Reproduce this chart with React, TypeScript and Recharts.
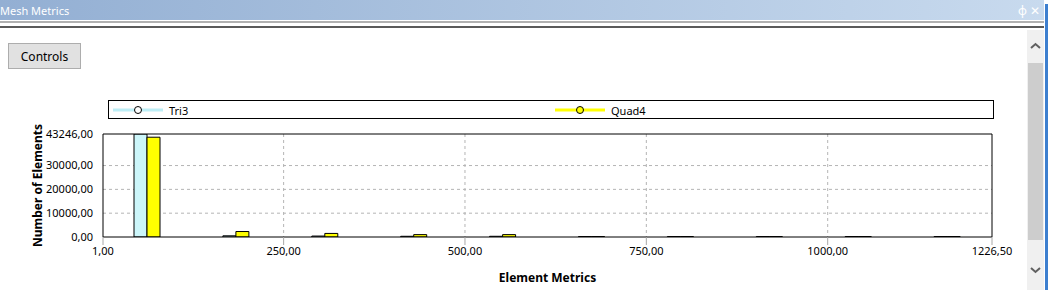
import React from 'react';
import { BarChart, Bar, XAxis, YAxis, CartesianGrid, Label, ReferenceLine } from 'recharts';

// bin centres of the element metric histogram
const binCenters = [62.28, 184.83, 307.38, 429.93, 552.48, 675.03, 797.58, 920.13, 1042.68, 1165.23];
const tri3Counts = [43246, 500, 400, 300, 300, 200, 200, 200, 200, 200];
const quad4Counts = [41900, 2300, 1500, 1000, 1000, 200, 200, 200, 200, 200];
const xTicks = [1, 250, 500, 750, 1000, 1226.5];
const yTicks = [0, 10000, 20000, 30000, 43246];
const seriesNames = ['Tri3', 'Quad4'];

const data = binCenters.map((x, i) => ({ x, tri3: tri3Counts[i], quad4: quad4Counts[i] }));

const fmt = (v: number) => v.toFixed(2).replace('.', ',');
const font = '"Noto Sans", "Open Sans", sans-serif';

function LegendItem({ name, line, dot, left }: { name: string; line: string; dot: string; left: number }) {
    return (
        <div style={{ position: 'absolute', left, top: 1, display: 'flex', alignItems: 'center', height: 16 }}>
            <svg width={50} height={10}>
                <line x1={0} y1={5} x2={50} y2={5} stroke={line} strokeWidth={3} />
                <circle cx={25} cy={5} r={3.5} fill={dot} stroke="#000" strokeWidth={1} />
            </svg>
            <span style={{ marginLeft: 6, fontSize: 11 }}>{name}</span>
        </div>
    );
}

export default function App() {
    return (
        <div style={{ position: 'absolute', left: 0, top: 0, width: 1048, height: 290, background: '#fff', overflow: 'hidden', fontFamily: font, color: '#000' }}>
            {/* title bar */}
            <div style={{ position: 'absolute', left: 0, top: 0, width: 1044, height: 20, background: 'linear-gradient(to right, #93afd3, #c8daee)' }}>
                <span style={{ position: 'absolute', left: 0, top: 3, fontSize: 11, color: '#fff' }}>Mesh Metrics</span>
                <span style={{ position: 'absolute', right: 4, top: 2, fontSize: 12, color: '#fff' }}>ф ✕</span>
            </div>
            <div style={{ position: 'absolute', left: 0, top: 21, width: 1044, height: 2, background: '#b0b0b0' }} />
            <div style={{ position: 'absolute', left: 0, top: 26, width: 1044, height: 2, background: '#5a5a5a' }} />
            <div style={{ position: 'absolute', left: 1045, top: 4, width: 3, height: 286, background: '#3d7fcf' }} />

            {/* scrollbar */}
            <div style={{ position: 'absolute', left: 1027, top: 30, width: 17, height: 260, background: '#f0f0f0' }}>
                <div style={{ position: 'absolute', left: 1, top: 33, width: 15, height: 177, background: '#cdcdcd' }} />
                <svg style={{ position: 'absolute', left: 2, top: 12 }} width={13} height={8}>
                    <polyline points="2,6 6.5,2 11,6" fill="none" stroke="#606060" strokeWidth={2} />
                </svg>
                <svg style={{ position: 'absolute', left: 2, top: 236 }} width={13} height={8}>
                    <polyline points="2,2 6.5,6 11,2" fill="none" stroke="#606060" strokeWidth={2} />
                </svg>
            </div>

            {/* controls button */}
            <div style={{ position: 'absolute', left: 8, top: 43, width: 71, height: 24, border: '1px solid #adadad', background: '#e1e1e1', fontSize: 12, display: 'flex', alignItems: 'center', justifyContent: 'center' }}>
                Controls
            </div>

            {/* legend */}
            <div style={{ position: 'absolute', left: 108, top: 100, width: 884, height: 17, border: '1px solid #000' }}>
                <LegendItem name={seriesNames[0]} line="#bdeef6" dot="#fff" left={4} />
                <LegendItem name={seriesNames[1]} line="#ffff00" dot="#ffff00" left={446} />
            </div>

            <div style={{ position: 'absolute', left: 0, top: 0 }}>
                <BarChart width={1024} height={290} data={data} margin={{ top: 134, right: 32, bottom: 0, left: 0 }} barGap={0} barSize={13}>
                    <CartesianGrid
                        stroke="#b4b4b4"
                        strokeDasharray="3 3"
                        horizontalValues={[10000, 20000, 30000]}
                        verticalValues={[250, 500, 750, 1000]}
                    />
                    <XAxis
                        dataKey="x"
                        type="number"
                        domain={[1, 1226.5]}
                        ticks={xTicks}
                        tickFormatter={fmt}
                        height={53}
                        axisLine={{ stroke: '#000' }}
                        tickLine={{ stroke: '#a8a8a8' }}
                        tickSize={8}
                        tick={{ fontSize: 11, fill: '#000', fontFamily: font }}
                    >
                        <Label value="Element Metrics" position="insideBottom" offset={8} style={{ fontSize: 12, fontWeight: 'bold', fill: '#000', fontFamily: font }} />
                    </XAxis>
                    <YAxis
                        type="number"
                        domain={[0, 43246]}
                        ticks={yTicks}
                        allowDataOverflow
                        tickFormatter={fmt}
                        width={103}
                        axisLine={{ stroke: '#000' }}
                        tickLine={false}
                        tickMargin={4}
                        tick={{ fontSize: 11, fill: '#000', fontFamily: font }}
                    >
                        <Label value="Number of Elements" angle={-90} position="insideLeft" offset={38} style={{ fontSize: 12, fontWeight: 'bold', fill: '#000', fontFamily: font, textAnchor: 'middle' }} />
                    </YAxis>
                    <ReferenceLine y={43246} stroke="#000" />
                    <ReferenceLine x={1226.5} stroke="#000" />
                    <Bar dataKey="tri3" name={seriesNames[0]} fill="#ccf6fa" stroke="#000" strokeWidth={1} isAnimationActive={false} />
                    <Bar dataKey="quad4" name={seriesNames[1]} fill="#ffff00" stroke="#000" strokeWidth={1} isAnimationActive={false} />
                </BarChart>
            </div>
        </div>
    );
}
